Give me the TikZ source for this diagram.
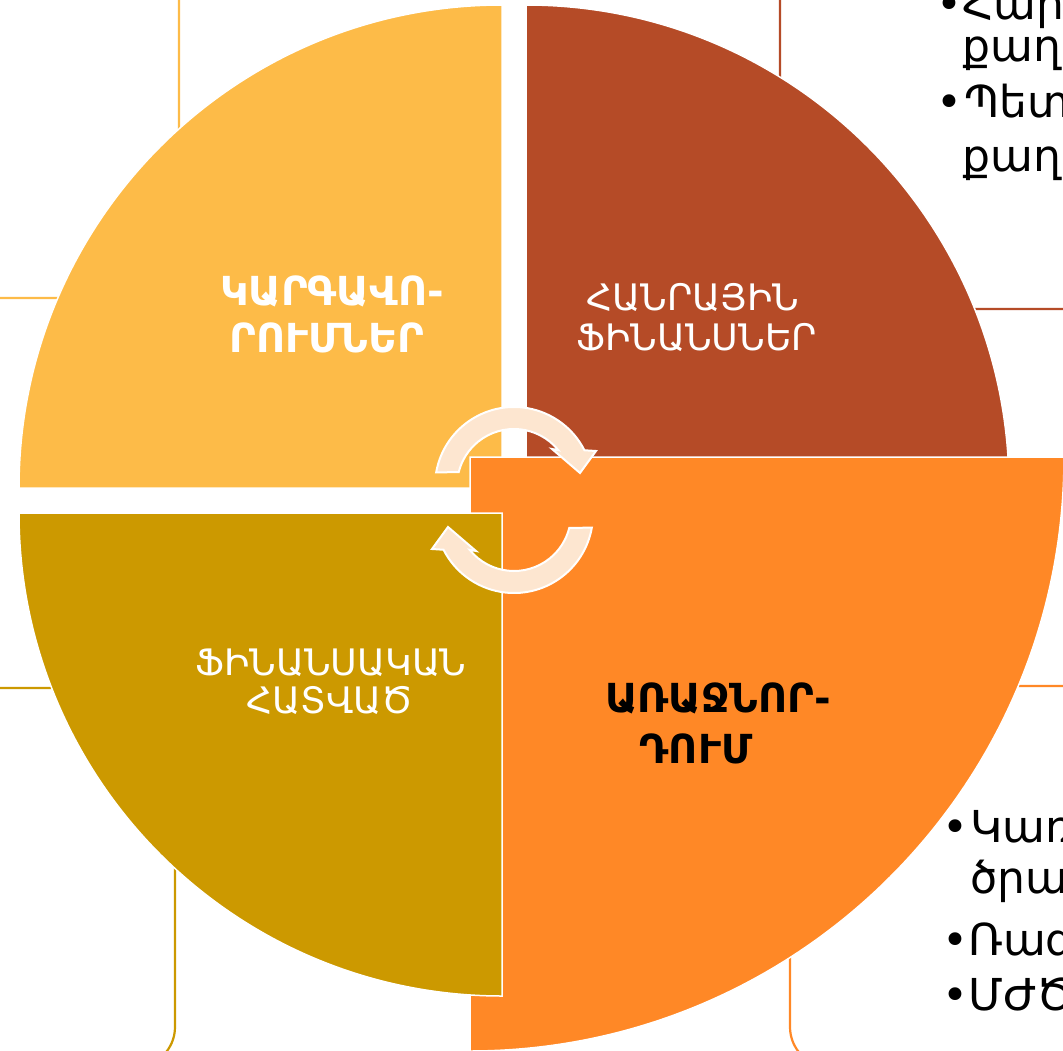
\documentclass[tikz,border=0pt]{standalone}
\usepackage{fontspec}
\setmainfont{DejaVu Sans}
\newfontfamily\arm{DejaVu Sans}
\definecolor{yellowq}{RGB}{253,187,72}
\definecolor{brownq}{RGB}{181,75,39}
\definecolor{goldq}{RGB}{204,153,0}
\definecolor{orangeq}{RGB}{255,136,38}
\definecolor{peach}{RGB}{253,230,208}
\tikzset{
  quad/.style={draw=white, line width=1.5pt},
  tbox/.style={draw=#1, line width=2.2pt, fill=white, rounded corners=40pt},
  lbl/.style={anchor=base, inner sep=0pt, text=white, font=\arm\fontsize{36.5}{36.5}\selectfont},
  lblb/.style={anchor=base, inner sep=0pt, text=white, font=\arm\bfseries\fontsize{40}{40}\selectfont},
  arrshape/.style={fill=peach, draw=white, line width=2pt, line join=miter},
  btxt/.style={anchor=base west, inner sep=0pt, text=black, font=\arm\fontsize{#1}{#1}\selectfont},
}
\begin{document}
\begin{tikzpicture}[x=1pt,y=1pt]
\useasboundingbox (0,0) rectangle (1063,-1051);
\clip (0,0) rectangle (1063,-1051);
% text boxes behind the circle
\draw[tbox=yellowq] (-200,200) rectangle (179,-298);
\draw[tbox=brownq] (780,200) rectangle (1300,-309);
\draw[tbox=goldq] (-200,-688) rectangle (175,-1067);
\draw[tbox=orangeq] (790,-686) rectangle (1300,-1067);
% quadrants
\path[quad, fill=yellowq] (502,-488) -- (19,-488) arc[start angle=180, end angle=90, radius=483pt] -- cycle;
\path[quad, fill=brownq] (526,-488) -- (526,-5) arc[start angle=90, end angle=0, radius=483pt] -- cycle;
\path[quad, fill=orangeq] (470,-457) -- (1064,-457) arc[start angle=0, end angle=-90, radius=594pt] -- cycle;
\path[quad, fill=goldq] (502,-513) -- (502,-996) arc[start angle=270, end angle=180, radius=483pt] -- cycle;
% circular arrows
\begin{scope}[shift={(514,-486)}]
  \path[arrshape] (170:79) arc[start angle=170, end angle=26.9, radius=79pt]
    -- (82,35) -- (66,13) -- (38,37) -- (39:57)
    arc[start angle=39, end angle=166, radius=57pt] -- cycle;
\end{scope}
\begin{scope}[rotate around={180:(514,-500)}]
 \begin{scope}[shift={(514,-486)}]
  \path[arrshape] (170:79) arc[start angle=170, end angle=26.9, radius=79pt]
    -- (82,35) -- (66,13) -- (38,37) -- (39:57)
    arc[start angle=39, end angle=166, radius=57pt] -- cycle;
 \end{scope}
\end{scope}
% quadrant labels
\node[lblb] (tl1) at (332,-305) {ԿԱՐԳԱՎՈ-};
\node[lblb] (tl2) at (327,-352) {ՐՈՒՄՆԵՐ};
\node[lbl] (tr1) at (693,-310) {ՀԱՆՐԱՅԻՆ};
\node[lbl] (tr2) at (697,-350) {ՖԻՆԱՆՍՆԵՐ};
\node[lbl] (bl1) at (331,-675) {ՖԻՆԱՆՍԱԿԱՆ};
\node[lbl] (bl2) at (330,-713) {ՀԱՏՎԱԾ};
\node[lblb, text=black] (br1) at (718,-712) {ԱՌԱՋՆՈՐ-};
\node[lblb, text=black] (br2) at (696,-763) {ԴՈՒՄ};
% bullet texts, top right
\node[btxt=44] (ta0) at (936,-20) {•};
\node[btxt=44] (ta1) at (962,-20) {Հար};
\node[btxt=44] (ta2) at (962,-62) {քաղ};
\node[btxt=44] (tb0) at (936,-118) {•};
\node[btxt=44] (tb1) at (964,-118) {Պետ};
\node[btxt=44] (tb2) at (962,-172) {քաղ};
% bullet texts, bottom right
\node[btxt=44] (ba0) at (942,-842) {•};
\node[btxt=44] (ba1) at (970,-842) {Կառ};
\node[btxt=44] (ba2) at (970,-893) {ծրա};
\node[btxt=44] (bb0) at (942,-955) {•};
\node[btxt=44] (bb1) at (968,-955) {Ռազ};
\node[btxt=44] (bc0) at (942,-1010) {•};
\node[btxt=44] (bc1) at (968,-1010) {ՄԺԾ};
\end{tikzpicture}
\end{document}
